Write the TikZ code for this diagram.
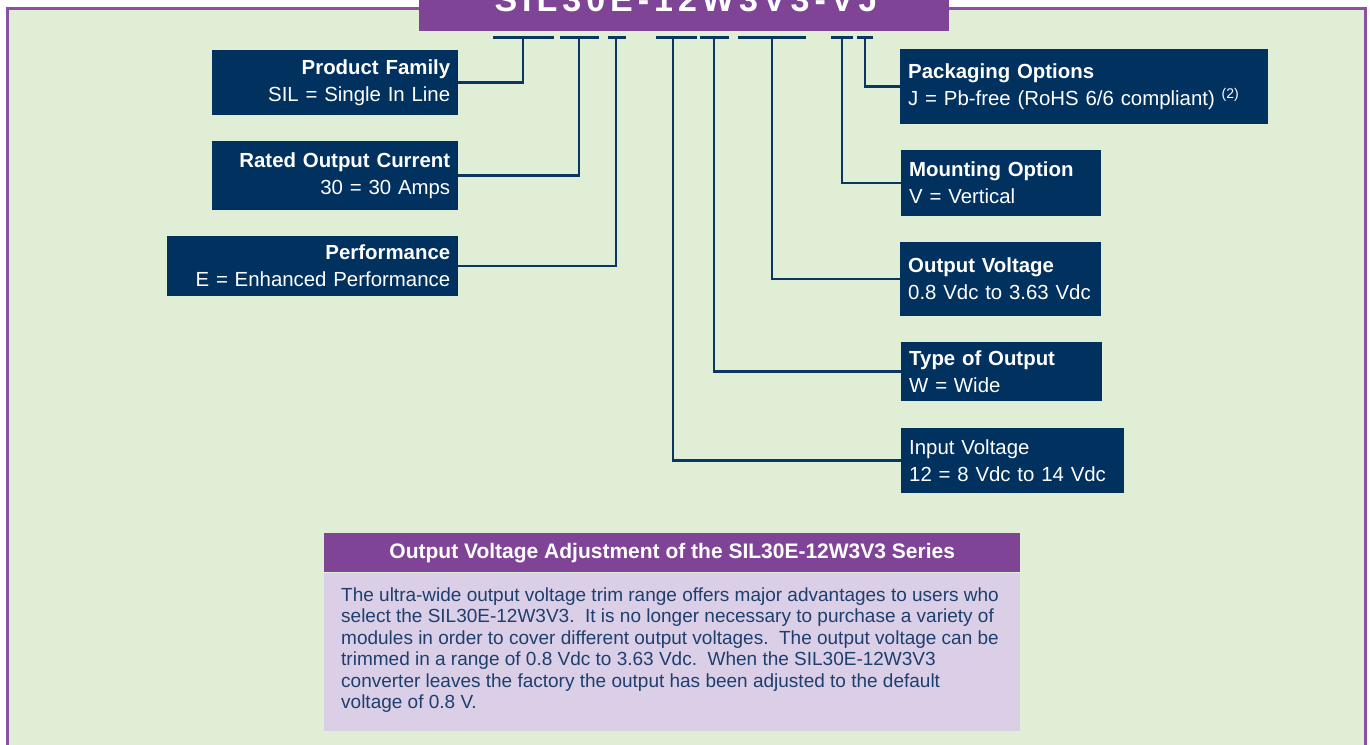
\documentclass[tikz,border=0pt]{standalone}
\usepackage{fontspec}
\setmainfont{Liberation Sans}
\usepackage{xcolor}
\definecolor{panelgreen}{HTML}{E1EED6}
\definecolor{framepurple}{HTML}{8A50A2}
\definecolor{headpurple}{HTML}{7F4496}
\definecolor{navy}{HTML}{00315F}
\definecolor{wirenavy}{HTML}{0B3562}
\definecolor{lavender}{HTML}{DBCFE7}
\definecolor{bodynavy}{HTML}{1E3F6D}
\usepackage{tikz}
\usetikzlibrary{positioning, calc}
\tikzset{
    infobox/.style = {fill=navy, text=white, anchor=north west,
                      inner xsep=8pt, inner ysep=0pt,
                      font=\fontsize{20.4}{27}\selectfont},
    leftbox/.style = {infobox, align=right},
    rightbox/.style = {infobox, align=left},
    wire/.style = {draw=wirenavy, line width=2.5pt},
    codetext/.style = {text=white, inner sep=0pt,
                       font=\fontsize{34}{34}\selectfont\bfseries\addfontfeature{LetterSpace=14.7}},
    adjhead/.style = {fill=headpurple, text=white, anchor=north west, inner sep=0pt,
                      minimum width=696, minimum height=39,
                      font=\fontsize{21}{21}\selectfont\bfseries},
    adjbody/.style = {fill=lavender, anchor=north west, inner sep=0pt,
                      minimum width=696, minimum height=158},
    adjtext/.style = {text=bodynavy, align=left, anchor=north west, inner sep=0pt,
                      font=\fontsize{19}{21.5}\selectfont},
}

\begin{document}
\begin{tikzpicture}[x=1pt, y=-1pt]
    \useasboundingbox (0,0) rectangle (1370,744);
    \clip (0,0) rectangle (1370,744);

    % frame
    \fill[panelgreen] (7.5,8.5) rectangle (1365.5,760);
    \draw[framepurple, line width=2.5pt] (7.5,760) -- (7.5,8.5) -- (1365.5,8.5) -- (1365.5,760);

    % part number
    \fill[headpurple] (419,-30) rectangle (949,31);
    \node[codetext, anchor=base] (code) at (686,11) {SIL30E-12W3V3-VJ};

    % tick marks under the part number
    \foreach \n/\x/\a/\b in {t1/523/-30/31, t2/579/-19/20, t3/616/-8/10, t4/673/-17/24,
                             t5/714/-14/15, t6/772/-34/34, t7/842/-11/11, t8/865/-8/8} {
        \coordinate (\n) at (\x,37.3);
        \draw[wire] ([xshift=\a pt]\n) -- ([xshift=\b pt]\n);
    }

    % left column
    \node[leftbox, minimum width=246, text width=230, minimum height=65] (family) at (212,50)
        {\textbf{Product Family}\\SIL = Single In Line};
    \node[leftbox, minimum width=246, text width=230, minimum height=69] (current) at (212,141)
        {\textbf{Rated Output Current}\\30 = 30 Amps};
    \node[leftbox, minimum width=291, text width=275, minimum height=60] (perf) at (167,236)
        {\textbf{Performance}\\E = Enhanced Performance};

    % right column
    \node[rightbox, minimum width=368, text width=352, minimum height=75] (pack) at (900,49)
        {\textbf{Packaging Options}\\J = Pb-free (RoHS 6/6 compliant) \raisebox{7pt}{\fontsize{14}{14}\selectfont(2)}};
    \node[rightbox, minimum width=200, text width=184, minimum height=66] (mount) at (901,150)
        {\textbf{Mounting Option}\\V = Vertical};
    \node[rightbox, minimum width=201, text width=185, minimum height=74] (vout) at (900,242)
        {\textbf{Output Voltage}\\0.8 Vdc to 3.63 Vdc};
    \node[rightbox, minimum width=201, text width=185, minimum height=59] (otype) at (901,342)
        {\textbf{Type of Output}\\W = Wide};
    \node[rightbox, minimum width=223, text width=207, minimum height=65] (input) at (901,428)
        {Input Voltage\\12 = 8 Vdc to 14 Vdc};

    \draw[wire] (family.east) -| (t1);
    \draw[wire] (current.east) -| (t2);
    \draw[wire] (perf.east) -| (t3);
    \draw[wire] (input.west) -| (t4);
    \draw[wire] (otype.west) -| (t5);
    \draw[wire] (vout.west) -| (t6);
    \draw[wire] (mount.west) -| (t7);
    \draw[wire] (pack.west) -| (t8);

    % adjustment note
    \node[adjhead] (head) at (324,533) {Output Voltage Adjustment of the SIL30E-12W3V3 Series};
    \node[adjbody, below=0pt of head.south west, anchor=north west] (note) {};
    \node[adjtext] (notetext) at ([xshift=17pt, yshift=-15pt]note.north west)
        {The ultra-wide output voltage trim range offers major advantages to users who\\
         select the SIL30E-12W3V3.\ \ It is no longer necessary to purchase a variety of\\
         modules in order to cover different output voltages.\ \ The output voltage can be\\
         trimmed in a range of 0.8 Vdc to 3.63 Vdc.\ \ When the SIL30E-12W3V3\\
         converter leaves the factory the output has been adjusted to the default\\
         voltage of 0.8 V.};
\end{tikzpicture}
\end{document}
